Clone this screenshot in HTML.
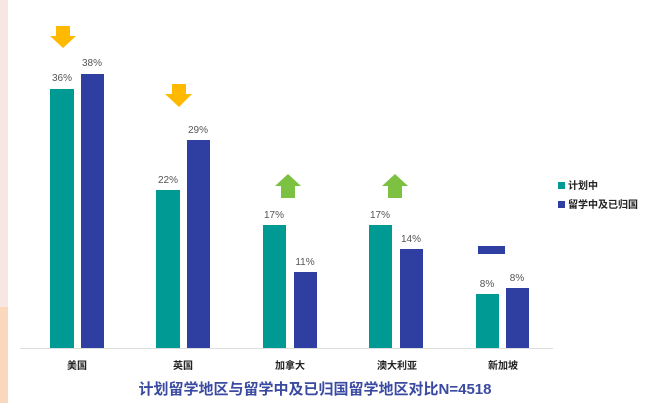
<!DOCTYPE html>
<html><head><meta charset="utf-8"><style>
body{margin:0;width:656px;height:403px;overflow:hidden;background:#fff;font-family:"Liberation Sans","Noto Sans CJK SC",sans-serif;}
</style></head><body>
<svg width="656" height="403" xmlns="http://www.w3.org/2000/svg" font-family="Liberation Sans, Noto Sans CJK SC, sans-serif">
<rect x="0" y="0" width="8" height="307" fill="#f8e6e2"/>
<rect x="0" y="307" width="8" height="96" fill="#fbd7bb"/>
<line x1="20" y1="348.5" x2="553" y2="348.5" stroke="#ddd" stroke-width="1"/>
<g fill="#009a94">
<rect x="50" y="89" width="24" height="259"/>
<rect x="156" y="190" width="24" height="158"/>
<rect x="263" y="225" width="23" height="123"/>
<rect x="369" y="225" width="23" height="123"/>
<rect x="476" y="294" width="23" height="54"/>
</g>
<g fill="#2e3fa1">
<rect x="81" y="74" width="23" height="274"/>
<rect x="187" y="140" width="23" height="208"/>
<rect x="294" y="272" width="23" height="76"/>
<rect x="400" y="249" width="23" height="99"/>
<rect x="506" y="288" width="23" height="60"/>
<rect x="478" y="246" width="27" height="8"/>
</g>
<g fill="#555" font-size="10" text-anchor="middle">
<text x="62" y="81">36%</text><text x="92" y="66">38%</text>
<text x="168" y="183">22%</text><text x="198" y="133">29%</text>
<text x="274" y="218">17%</text><text x="305" y="265">11%</text>
<text x="380" y="218">17%</text><text x="411" y="242">14%</text>
<text x="487" y="287">8%</text><text x="517" y="281">8%</text>
</g>
<g fill="#ffb900">
<polygon points="56,26 70,26 70,36 76,36 63,48 50,36 56,36"/>
<polygon points="172,84 186,84 186,94 192,94 179,107 165,94 172,94"/>
</g>
<g fill="#7cc142">
<polygon points="288,174 301,186 295,186 295,198 281,198 281,186 275,186"/>
<polygon points="395,174 408,186 402,186 402,198 388,198 388,186 382,186"/>
</g>
<g fill="#222" font-size="10" font-weight="bold" text-anchor="middle">
<text x="77" y="369">美国</text><text x="183" y="369">英国</text><text x="290" y="369">加拿大</text><text x="397" y="369">澳大利亚</text><text x="503" y="369">新加坡</text>
</g>
<text x="315" y="394" text-anchor="middle" font-size="15" font-weight="bold" fill="#3a4aa0">计划留学地区与留学中及已归国留学地区对比N=4518</text>
<rect x="558" y="182" width="7" height="7" fill="#009a94"/>
<text x="568" y="189" font-size="10" font-weight="bold" fill="#222">计划中</text>
<rect x="558" y="201" width="7" height="7" fill="#2e3fa1"/>
<text x="568" y="208" font-size="10" font-weight="bold" fill="#222">留学中及已归国</text>
</svg>
</body></html>
